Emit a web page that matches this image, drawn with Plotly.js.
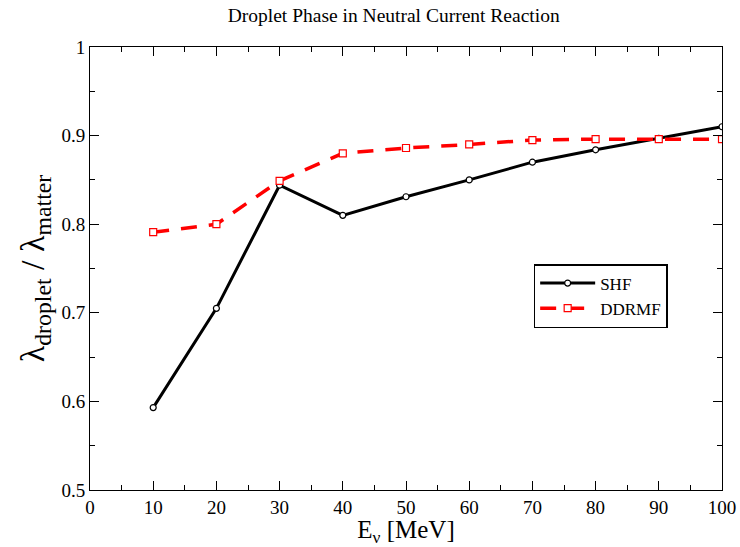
<!DOCTYPE html>
<html><head><meta charset="utf-8">
<script src="https://cdn.plot.ly/plotly-3.0.1.min.js"></script>
<style>body{margin:0;background:#fff}#c{width:740px;height:547px}</style>
</head><body><div id="c"></div>
<script>
const energy = [10, 20, 30, 40, 50, 60, 70, 80, 90, 100];
const shf = [0.593, 0.705, 0.844, 0.810, 0.831, 0.850, 0.870, 0.884, 0.897, 0.910];
const ddrmf = [0.791, 0.800, 0.849, 0.880, 0.886, 0.890, 0.895, 0.896, 0.896, 0.896];

const font = {family: 'Liberation Serif, Times New Roman, serif', color: '#000'};
const traces = [
  {x: energy, y: shf, name: 'SHF', mode: 'lines+markers', line: {color: '#000', width: 3},
   marker: {symbol: 'circle', size: 6, color: '#fff', line: {color: '#000', width: 1.2}}},
  {x: energy, y: ddrmf, name: 'DDRMF', mode: 'lines+markers', line: {color: '#ff0000', width: 3.5, dash: '16px,12px'},
   marker: {symbol: 'square', size: 7, color: '#fff', line: {color: '#ff0000', width: 1.2}}}
];
const axisCommon = {showgrid: false, zeroline: false, showline: true, linecolor: '#000', linewidth: 1,
  mirror: 'ticks', ticks: 'inside', tickcolor: '#000', ticklen: 9, tickfont: Object.assign({size: 19}, font)};
const layout = {
  width: 740, height: 547,
  margin: {l: 90, r: 18, t: 47, b: 57},
  paper_bgcolor: '#fff', plot_bgcolor: '#fff',
  title: {text: 'Droplet Phase in Neutral Current Reaction', font: Object.assign({size: 19.5}, font), x: 0.532, xanchor: 'center', y: 0.985, yanchor: 'top'},
  xaxis: Object.assign({}, axisCommon, {range: [0, 100], tickvals: [0,10,20,30,40,50,60,70,80,90,100],
    minor: {dtick: 5, ticks: 'inside', ticklen: 5, tickcolor: '#000'},
    title: {text: 'E<sub>ν</sub> [MeV]', font: Object.assign({size: 25}, font), standoff: 4}}),
  yaxis: Object.assign({}, axisCommon, {range: [0.5, 1], tickvals: [0.5,0.6,0.7,0.8,0.9,1],
    ticktext: ['0.5','0.6','0.7','0.8','0.9','1'],
    minor: {dtick: 0.05, ticks: 'inside', ticklen: 5, tickcolor: '#000'},
    title: {text: 'λ<sub>droplet</sub> / λ<sub>matter</sub>', font: Object.assign({size: 34}, font), standoff: 6}}),
  legend: {x: 0.702, y: 0.51, xanchor: 'left', yanchor: 'top', bordercolor: '#000', borderwidth: 1.5,
    bgcolor: '#fff', font: Object.assign({size: 17}, font), tracegroupgap: 0, itemwidth: 55},
  showlegend: true
};
Plotly.newPlot('c', traces, layout, {displayModeBar: false});
</script></body></html>
